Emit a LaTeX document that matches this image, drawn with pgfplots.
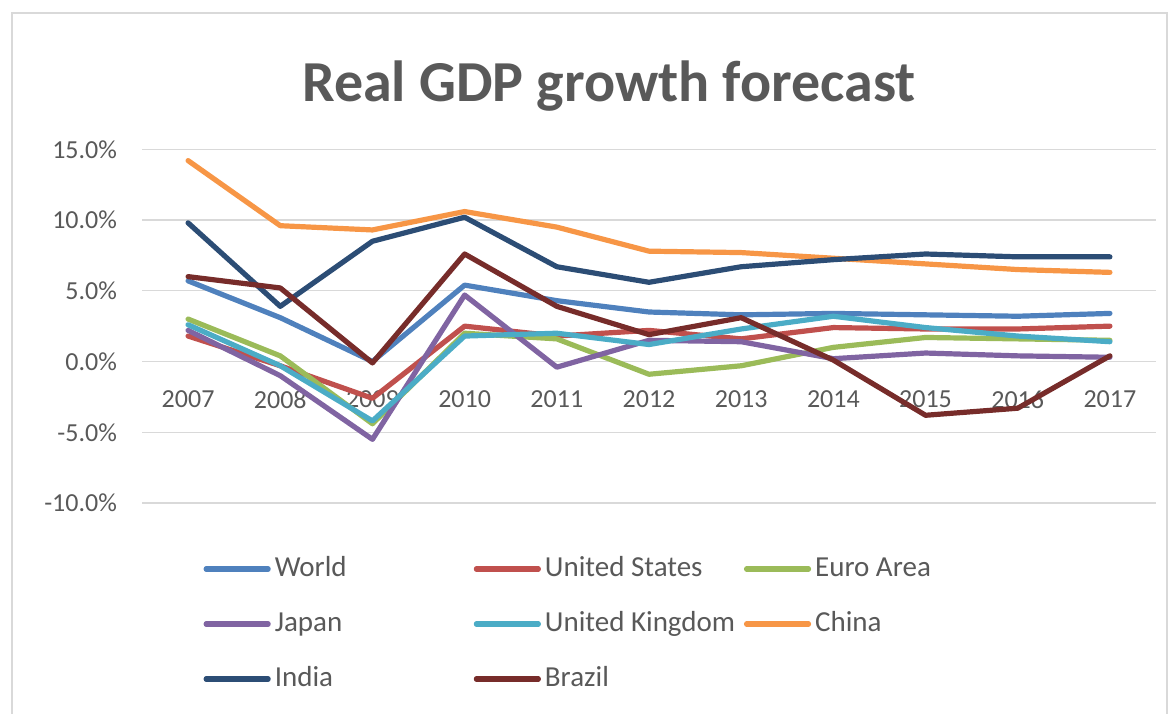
\documentclass[border=0pt]{standalone}
\usepackage{pgfplots}
\pgfplotsset{compat=1.18}
\usepackage{fontspec}
\setmainfont{Carlito}
\definecolor{cWorld}{HTML}{4F81BD}
\definecolor{cUS}{HTML}{C0504D}
\definecolor{cEuro}{HTML}{9BBB59}
\definecolor{cJapan}{HTML}{8064A2}
\definecolor{cUK}{HTML}{4BACC6}
\definecolor{cChina}{HTML}{F79646}
\definecolor{cIndia}{HTML}{2C4D75}
\definecolor{cBrazil}{HTML}{772C2A}
\definecolor{textgray}{HTML}{595959}
\definecolor{gridgray}{HTML}{D9D9D9}
\begin{document}
\begin{tikzpicture}
\useasboundingbox (0,0) rectangle (586pt,356.5pt);
\draw[gridgray, line width=1pt] (6pt,-10pt) rectangle (583.5pt,350pt);
\node[font=\fontsize{29}{34}\selectfont\bfseries, text=textgray] at (304.5pt,313.5pt) {Real GDP growth forecast};
\begin{axis}[
  at={(71pt,105pt)}, anchor=south west,
  scale only axis, width=507pt, height=176.85pt,
  xmin=-0.5, xmax=10.5, ymin=-10, ymax=15,
  axis x line=middle, axis y line=left,
  x axis line style={draw=gridgray, line width=0.6pt, -},
  y axis line style={draw=none},
  xtick={0,...,10},
  xticklabels={2007,2008,2009,2010,2011,2012,2013,2014,2015,2016,2017},
  ytick={-10,-5,0,5,10,15},
  yticklabel={\pgfmathprintnumber[fixed,fixed zerofill,precision=1,assume math mode=true]{\tick}\%},
  major tick length=0pt,
  ymajorgrids, grid style={gridgray, line width=0.6pt},
  tick label style={font=\fontsize{13}{15}\selectfont, text=textgray},
  xticklabel style={anchor=north, yshift=-11pt},
  yticklabel style={anchor=east, xshift=-9pt},
  clip=false,
  every axis plot/.append style={line width=2.6pt, line join=round, line cap=round},
  legend columns=3,
  legend cell align=left,
  legend image code/.code={\draw[#1, line width=2.6pt] (0pt,0pt) -- (31pt,0pt);},
  legend style={at={(axis description cs:0.0607,-0.3421)}, anchor=west,
    draw=none, fill=none, inner sep=0pt, outer sep=0pt,
    font=\fontsize{14.5}{17}\selectfont, text=textgray,
    nodes={inner sep=1pt, text height=10.5pt, text depth=3.5pt},
    row sep=11.5pt,
    /tikz/every odd column/.append style={column sep=1pt},
    /tikz/every even column/.append style={column sep=0pt}},
]
\addplot[cWorld] coordinates {(0,5.7)(1,3.1)(2,0.0)(3,5.4)(4,4.3)(5,3.5)(6,3.3)(7,3.4)(8,3.3)(9,3.2)(10,3.4)};
\addlegendentry{\makebox[98.5pt][l]{World}}
\addplot[cUS] coordinates {(0,1.8)(1,-0.3)(2,-2.6)(3,2.5)(4,1.8)(5,2.2)(6,1.6)(7,2.4)(8,2.3)(9,2.3)(10,2.5)};
\addlegendentry{\makebox[98.5pt][l]{United States}}
\addplot[cEuro] coordinates {(0,3.0)(1,0.4)(2,-4.4)(3,2.0)(4,1.6)(5,-0.9)(6,-0.3)(7,1.0)(8,1.7)(9,1.6)(10,1.5)};
\addlegendentry{Euro Area}
\addplot[cJapan] coordinates {(0,2.2)(1,-1.0)(2,-5.5)(3,4.7)(4,-0.4)(5,1.5)(6,1.4)(7,0.2)(8,0.6)(9,0.4)(10,0.3)};
\addlegendentry{\makebox[98.5pt][l]{Japan}}
\addplot[cUK] coordinates {(0,2.6)(1,-0.3)(2,-4.2)(3,1.8)(4,2.0)(5,1.2)(6,2.3)(7,3.2)(8,2.4)(9,1.8)(10,1.4)};
\addlegendentry{\makebox[98.5pt][l]{United Kingdom}}
\addplot[cChina] coordinates {(0,14.2)(1,9.6)(2,9.3)(3,10.6)(4,9.5)(5,7.8)(6,7.7)(7,7.3)(8,6.9)(9,6.5)(10,6.3)};
\addlegendentry{China}
\addplot[cIndia] coordinates {(0,9.8)(1,3.9)(2,8.5)(3,10.2)(4,6.7)(5,5.6)(6,6.7)(7,7.2)(8,7.6)(9,7.4)(10,7.4)};
\addlegendentry{\makebox[98.5pt][l]{India}}
\addplot[cBrazil] coordinates {(0,6.0)(1,5.2)(2,-0.1)(3,7.6)(4,3.9)(5,1.9)(6,3.1)(7,0.1)(8,-3.8)(9,-3.3)(10,0.4)};
\addlegendentry{\makebox[98.5pt][l]{Brazil}}
\end{axis}
\end{tikzpicture}
\end{document}
